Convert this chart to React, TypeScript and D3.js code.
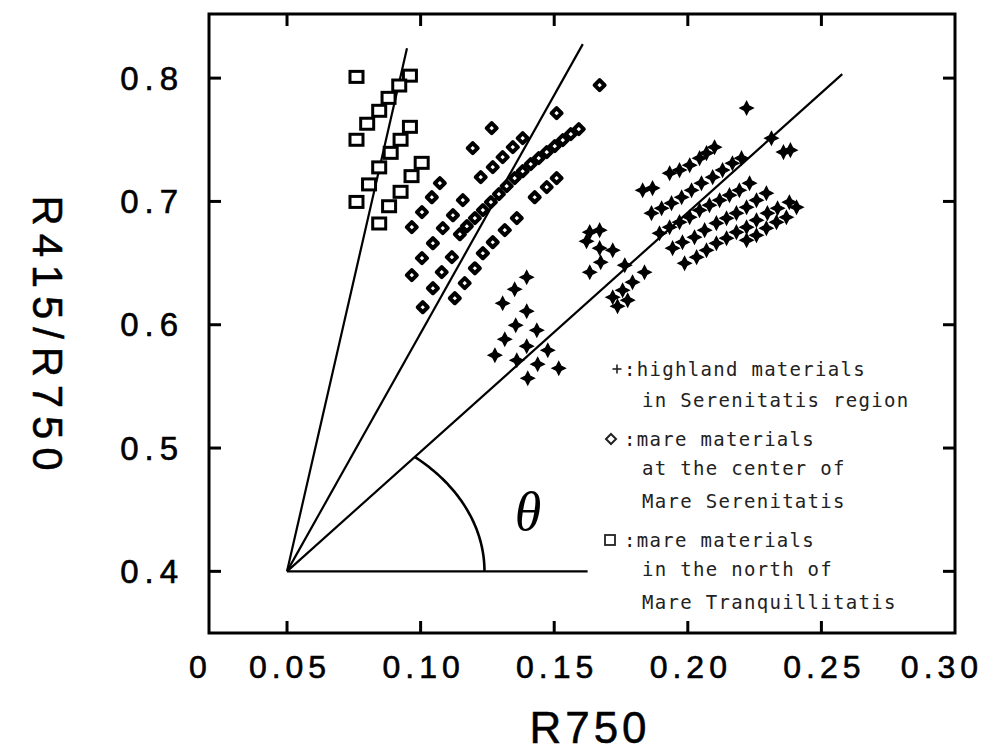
import React from "react";
import * as d3 from "d3";

// ---------- data ----------
// open squares: mare materials in the north of Mare Tranquillitatis
const squaresX = [0.076, 0.096, 0.092, 0.088, 0.0845, 0.080, 0.076, 0.096, 0.0925, 0.0888, 0.0845, 0.0807, 0.076, 0.1004, 0.0966, 0.0925, 0.0882, 0.0845];
const squaresY = [0.801, 0.802, 0.794, 0.784, 0.7735, 0.763, 0.750, 0.7605, 0.750, 0.7394, 0.7276, 0.7138, 0.6996, 0.7313, 0.7205, 0.7078, 0.6961, 0.6821];

// diamonds: mare materials at the center of Mare Serenitatis
const diamondsX = [
  0.1266, 0.1195, 0.1509, 0.1670,
  0.1382, 0.1345, 0.1307, 0.1270, 0.1225,
  0.1592, 0.1562, 0.1532, 0.1502, 0.1472, 0.1442, 0.1412, 0.1382, 0.1352, 0.1322, 0.1293, 0.1263, 0.1233, 0.1203, 0.1173, 0.1147,
  0.1072, 0.1042, 0.1005, 0.0967,
  0.1158, 0.1121, 0.1083, 0.1046, 0.1005, 0.0967,
  0.1117, 0.1079, 0.1046, 0.1008,
  0.1360, 0.1315, 0.1270, 0.1233, 0.1203, 0.1165, 0.1128,
  0.1509, 0.1472, 0.1427,
];
const diamondsY = [
  0.7594, 0.7432, 0.7716, 0.7943,
  0.7513, 0.7440, 0.7359, 0.7278, 0.7197,
  0.7586, 0.7546, 0.7497, 0.7448, 0.7400, 0.7351, 0.7302, 0.7245, 0.7189, 0.7124, 0.7059, 0.6994, 0.6929, 0.6864, 0.6799, 0.6734,
  0.7148, 0.7034, 0.6913, 0.6791,
  0.7010, 0.6888, 0.6783, 0.6661, 0.6540, 0.6402,
  0.6548, 0.6426, 0.6296, 0.6142,
  0.6864, 0.6767, 0.6669, 0.6580, 0.6458, 0.6337, 0.6215,
  0.7189, 0.7116, 0.7034,
];

// plus markers: highland materials in Serenitatis region
const highlandX = [
  0.1397, 0.1352, 0.1307, 0.1397, 0.1356, 0.1435, 0.1315, 0.1397, 0.1476, 0.1278, 0.1360, 0.1438, 0.1517, 0.1401,
  0.1633, 0.1670, 0.1621, 0.1670, 0.1719, 0.1633, 0.1674, 0.1764, 0.1719, 0.1756, 0.1793, 0.1838, 0.1737, 0.1775,
  0.1932, 0.1969, 0.2007, 0.2044, 0.2070, 0.2100,
  0.1831, 0.1868,
  0.1864, 0.1902, 0.1939, 0.1977, 0.2014, 0.2051, 0.2093, 0.2130, 0.2167, 0.2201,
  0.1894, 0.1932, 0.1969, 0.2007, 0.2044, 0.2081, 0.2119, 0.2156, 0.2193, 0.2231,
  0.1943, 0.1980, 0.2025, 0.2063, 0.2107, 0.2145, 0.2182, 0.2220, 0.2257, 0.2294,
  0.1988, 0.2033, 0.2070, 0.2107, 0.2145, 0.2182, 0.2220, 0.2257, 0.2298, 0.2336, 0.2380,
  0.2220, 0.2257, 0.2294, 0.2332, 0.2369, 0.2407,
  0.2220, 0.2313, 0.2358, 0.2384,
];
const highlandY = [
  0.6385, 0.6288, 0.6174, 0.6110, 0.5996, 0.5955, 0.5882, 0.5826, 0.5793, 0.5753, 0.5712, 0.5680, 0.5647, 0.5566,
  0.6751, 0.6767, 0.6677, 0.6621, 0.6604, 0.6426, 0.6507, 0.6483, 0.6223, 0.6280, 0.6345, 0.6426, 0.6150, 0.6199,
  0.7229, 0.7254, 0.7294, 0.7351, 0.7392, 0.7440,
  0.7091, 0.7108,
  0.6905, 0.6945, 0.6986, 0.7034, 0.7091, 0.7148, 0.7197, 0.7254, 0.7310, 0.7351,
  0.6742, 0.6791, 0.6832, 0.6872, 0.6929, 0.6970, 0.7010, 0.7051, 0.7091, 0.7148,
  0.6621, 0.6669, 0.6710, 0.6767, 0.6824, 0.6864, 0.6905, 0.6953, 0.7010, 0.7067,
  0.6499, 0.6548, 0.6604, 0.6661, 0.6702, 0.6751, 0.6791, 0.6848, 0.6905, 0.6945, 0.6994,
  0.6686, 0.6726, 0.6783, 0.6832, 0.6872, 0.6953,
  0.7757, 0.7513, 0.7400, 0.7416,
];

// reference rays from the common origin
const rayOrigin = { x: 0.05, y: 0.4 };
const rayEndX = [0.0949, 0.1607, 0.2578];
const rayEndY = [0.8243, 0.8276, 0.8032];
const baselineEndX = 0.1625;
const arcRadiusX = 0.0739;
const arcRadiusY = 0.1217;

const xTicks = [0.05, 0.10, 0.15, 0.20, 0.25];
const xTickLabels = ["0.05", "0.10", "0.15", "0.20", "0.25", "0.30"];
const xLabelValues = [0.05, 0.10, 0.15, 0.20, 0.25, 0.30];
const yTicks = [0.4, 0.5, 0.6, 0.7, 0.8];
const yTickLabels = ["0.4", "0.5", "0.6", "0.7", "0.8"];

const legendLines = [
  { sym: "plus", text: ":highland materials" },
  { sym: null, text: "in Serenitatis region" },
  { sym: "diamond", text: ":mare materials" },
  { sym: null, text: "at the center of" },
  { sym: null, text: "Mare Serenitatis" },
  { sym: "square", text: ":mare materials" },
  { sym: null, text: "in the north of" },
  { sym: null, text: "Mare Tranquillitatis" },
];

// ---------- layout ----------
const W = 994;
const H = 753;
const L = 209, R = 955, T = 14, B = 633;
const xMin = 0.0208, xMax = 0.30, yMin = 0.35, yMax = 0.852;

const x = d3.scaleLinear().domain([xMin, xMax]).range([L, R]);
const y = d3.scaleLinear().domain([yMin, yMax]).range([B, T]);

const starPath = "M0,-6.5L2.2,-2.2L6.5,0L2.2,2.2L0,6.5L-2.2,2.2L-6.5,0L-2.2,-2.2Z";

export default function App() {
  const tickLen = 12;
  const tickFont = "'Liberation Sans', Arial, sans-serif";
  const monoFont = "'DejaVu Sans Mono', monospace";

  // arc end parameter: point on the ellipse lying on ray 3
  const dx3 = rayEndX[2] - rayOrigin.x;
  const dy3 = rayEndY[2] - rayOrigin.y;
  const tEnd = Math.atan2(arcRadiusX * dy3, arcRadiusY * dx3);
  const arcPts: [number, number][] = d3.range(0, 61).map((i) => {
    const t = (tEnd * i) / 60;
    return [x(rayOrigin.x + arcRadiusX * Math.cos(t)), y(rayOrigin.y + arcRadiusY * Math.sin(t))];
  });
  const arcPath = d3.line()(arcPts) || "";

  const legendRowY = [369, 400, 439, 468, 501, 540, 569, 602];

  return (
    <svg width={W} height={H} style={{ position: "absolute", left: 0, top: 0, background: "#fff" }}>
      <rect x={0} y={0} width={W} height={H} fill="#fff" />
      {/* frame */}
      <rect x={L} y={T} width={R - L} height={B - T} fill="none" stroke="#000" strokeWidth={3} />
      {/* ticks */}
      {xTicks.map((v) => (
        <g key={"xt" + v}>
          <line x1={x(v)} x2={x(v)} y1={B} y2={B - tickLen} stroke="#000" strokeWidth={3} />
          <line x1={x(v)} x2={x(v)} y1={T} y2={T + tickLen} stroke="#000" strokeWidth={3} />
        </g>
      ))}
      {yTicks.map((v) => (
        <g key={"yt" + v}>
          <line x1={L} x2={L + tickLen} y1={y(v)} y2={y(v)} stroke="#000" strokeWidth={3} />
          <line x1={R} x2={R - tickLen} y1={y(v)} y2={y(v)} stroke="#000" strokeWidth={3} />
        </g>
      ))}
      {/* tick labels */}
      <text x={L - 11} y={667} textAnchor="middle" dominantBaseline="central" fontFamily={tickFont} fontSize={32}
        stroke="#000" strokeWidth={0.6} fill="#000">0</text>
      {xTickLabels.map((s, i) => (
        <text key={"xl" + s} x={Math.min(x(xLabelValues[i]) + 3, 942)} y={667} textAnchor="middle" dominantBaseline="central"
          fontFamily={tickFont} fontSize={32} letterSpacing={5} stroke="#000" strokeWidth={0.6} fill="#000">{s}</text>
      ))}
      {yTickLabels.map((s, i) => (
        <text key={"yl" + s} x={184} y={y(yTicks[i])} textAnchor="end" dominantBaseline="central"
          fontFamily={tickFont} fontSize={33} letterSpacing={6} stroke="#000" strokeWidth={0.6} fill="#000">{s}</text>
      ))}
      {/* axis titles */}
      <text x={590} y={727} textAnchor="middle" dominantBaseline="central" fontFamily={tickFont} fontSize={44}
        letterSpacing={4} stroke="#000" strokeWidth={0.5} fill="#000">R750</text>
      <text transform={`translate(47,333) rotate(90)`} textAnchor="middle" dominantBaseline="central"
        fontFamily={tickFont} fontSize={42} textLength={275} lengthAdjust="spacing" stroke="#000" strokeWidth={0.5}
        fill="#000">R415/R750</text>

      {/* rays */}
      {rayEndX.map((ex, i) => (
        <line key={"ray" + i} x1={x(rayOrigin.x)} y1={y(rayOrigin.y)} x2={x(ex)} y2={y(rayEndY[i])}
          stroke="#000" strokeWidth={2.2} />
      ))}
      <line x1={x(rayOrigin.x)} y1={y(rayOrigin.y)} x2={x(baselineEndX)} y2={y(rayOrigin.y)} stroke="#000" strokeWidth={2.2} />
      <path d={arcPath} fill="none" stroke="#000" strokeWidth={2.6} />
      <text x={528} y={512} textAnchor="middle" dominantBaseline="central" fontFamily="'Liberation Serif', serif"
        fontStyle="italic" fontSize={54} fill="#000">θ</text>

      {/* squares */}
      {squaresX.map((v, i) => (
        <rect key={"sq" + i} x={x(v) - 6.5} y={y(squaresY[i]) - 5.5} width={13} height={11} fill="#fff"
          stroke="#000" strokeWidth={3} />
      ))}
      {/* diamonds */}
      {diamondsX.map((v, i) => (
        <path key={"dm" + i} transform={`translate(${x(v)},${y(diamondsY[i])})`} d="M0,-5L5,0L0,5L-5,0Z"
          fill="#fff" stroke="#000" strokeWidth={4} strokeLinejoin="round" />
      ))}
      {/* highland */}
      {highlandX.map((v, i) => (
        <path key={"hl" + i} transform={`translate(${x(v)},${y(highlandY[i])})`} d={starPath} fill="#000"
          stroke="#000" strokeWidth={1.4} />
      ))}

      {/* legend */}
      {legendLines.map((ln, i) => {
        const yy = legendRowY[i];
        return (
          <g key={"lg" + i}>
            {ln.sym === "plus" && (
              <g transform={`translate(617,${yy})`}>
                <line x1={-4.5} x2={4.5} y1={0} y2={0} stroke="#222" strokeWidth={1.6} />
                <line x1={0} x2={0} y1={-4.5} y2={4.5} stroke="#222" strokeWidth={1.6} />
              </g>
            )}
            {ln.sym === "diamond" && (
              <path transform={`translate(611,${yy})`} d="M0,-5L5,0L0,5L-5,0Z" fill="#fff" stroke="#222" strokeWidth={2} />
            )}
            {ln.sym === "square" && (
              <rect x={605} y={yy - 5} width={10} height={10} fill="#fff" stroke="#222" strokeWidth={1.8} />
            )}
            <text x={ln.sym ? 624 : 642} y={yy} dominantBaseline="central" fontFamily={monoFont} fontSize={19}
              letterSpacing={1.3} fill="#222">{ln.text}</text>
          </g>
        );
      })}
    </svg>
  );
}
